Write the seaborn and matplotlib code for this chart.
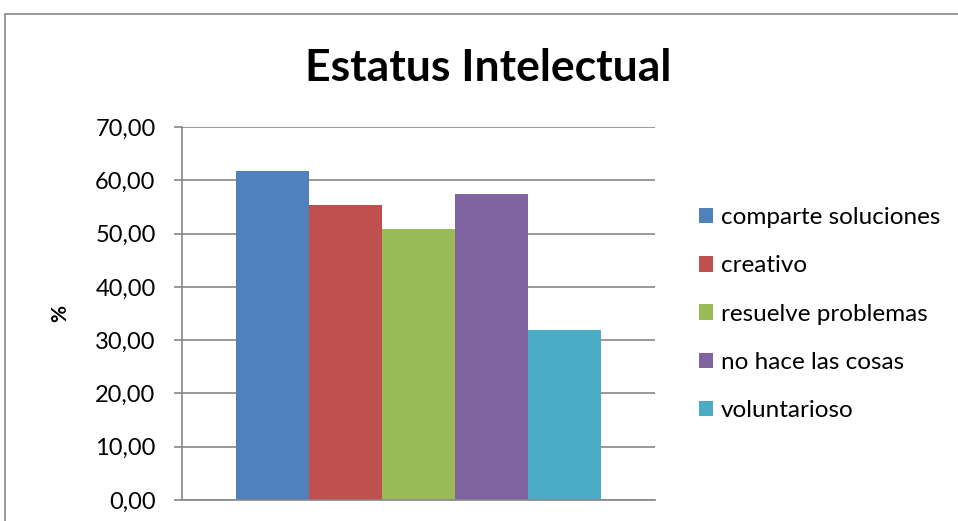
import seaborn as sns
import pandas as pd
import matplotlib.pyplot as plt
from matplotlib.patches import Rectangle
from matplotlib.ticker import FuncFormatter

categorias = ['comparte soluciones', 'creativo', 'resuelve problemas',
              'no hace las cosas', 'voluntarioso']
valores = [61.7, 55.3, 50.9, 57.4, 31.9]
colores = ['#4F81BD', '#C0504D', '#9BBB59', '#8064A2', '#4BACC6']
ticks_y = [0, 10, 20, 30, 40, 50, 60, 70]

df = pd.DataFrame({'grupo': [''] * len(categorias),
                   'categoria': categorias,
                   'valor': valores})

sns.set_style('white')
plt.rcParams['font.family'] = ['Lato', 'DejaVu Sans']
plt.rcParams['text.color'] = 'black'
plt.rcParams['axes.labelcolor'] = 'black'
plt.rcParams['ytick.labelcolor'] = 'black'

fig = plt.figure(figsize=(9.58, 5.21), dpi=100)
ax = fig.add_axes([182 / 958, 21 / 521, 473 / 958, 373 / 521])

sns.barplot(data=df, x='grupo', y='valor', hue='categoria', palette=colores,
            width=0.772, saturation=1, linewidth=0, ax=ax, legend=True)

ax.set_xlim(-0.5, 0.5)
ax.set_ylim(0, 70)
ax.set_yticks(ticks_y)
ax.yaxis.set_major_formatter(FuncFormatter(lambda v, p: f'{v:.2f}'.replace('.', ',')))
ax.tick_params(axis='y', labelsize=17, length=6, width=1.2, color='#868686',
               labelcolor='black', direction='out', left=True, pad=13)
ax.set_xticks([])
ax.set_xlabel('')
ax.set_ylabel('%', fontsize=15, fontweight='bold', color='black')
ax.yaxis.set_label_coords(-0.237, 0.5)
ax.yaxis.grid(True, color='#868686', linewidth=1.2)
ax.set_axisbelow(True)
for s in ['top', 'right']:
    ax.spines[s].set_visible(False)
for s in ['left', 'bottom']:
    ax.spines[s].set_color('#868686')
    ax.spines[s].set_linewidth(1.2)

handles, labels = ax.get_legend_handles_labels()
ax.legend(handles, labels, loc='center left', bbox_to_anchor=(0.719, 0.397),
          bbox_transform=fig.transFigure, frameon=False, fontsize=17.5,
          handlelength=0.6, handleheight=0.6, handletextpad=0.33,
          labelspacing=1.12, borderaxespad=0, labelcolor='black')

fig.text(488 / 958, 0.869, 'Estatus Intelectual', ha='center', va='center',
         fontsize=32, fontweight='bold', color='black')

fig.patches.append(Rectangle((5 / 958, -0.1), 1.0, 1.1 - 14 / 521,
                             transform=fig.transFigure, fill=False,
                             edgecolor='#868686', linewidth=1.2))

fig.savefig('out.png', dpi=100)
